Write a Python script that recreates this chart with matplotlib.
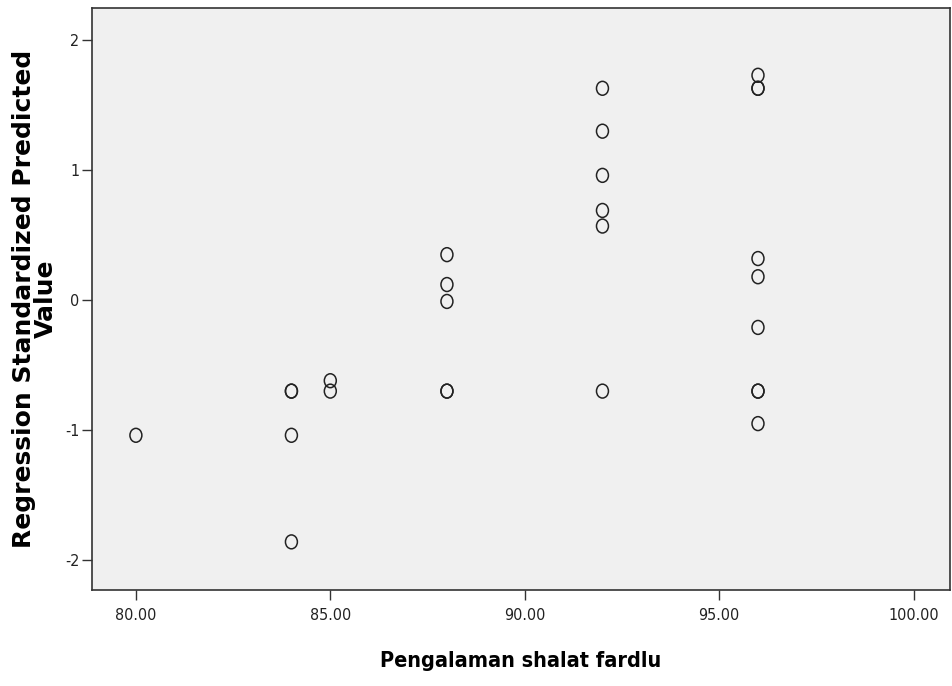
import matplotlib
matplotlib.use("Agg")
from matplotlib import pyplot as plt
from matplotlib.path import Path
from matplotlib.transforms import Affine2D

# scatter data
x_80 = [80]
y_80 = [-1.04]
x_84 = [84, 84, 84, 84]
y_84 = [-0.70, -0.70, -1.04, -1.86]
x_85 = [85, 85]
y_85 = [-0.62, -0.70]
x_88 = [88, 88, 88, 88, 88]
y_88 = [0.35, 0.12, -0.01, -0.70, -0.70]
x_92 = [92, 92, 92, 92, 92, 92]
y_92 = [1.63, 1.30, 0.96, 0.69, 0.57, -0.70]
x_96 = [96, 96, 96, 96, 96, 96, 96, 96, 96]
y_96 = [1.73, 1.63, 1.63, 0.32, 0.18, -0.21, -0.70, -0.70, -0.95]

xs = x_80 + x_84 + x_85 + x_88 + x_92 + x_96
ys = y_80 + y_84 + y_85 + y_88 + y_92 + y_96

x_ticks = [80, 85, 90, 95, 100]
y_ticks = [-2, -1, 0, 1, 2]

cond = dict(family='DejaVu Sans', stretch='condensed')

# slightly tall open circle, like the SPSS output
oval = Affine2D().scale(0.86, 1.0).transform_path(Path.unit_circle())

fig = plt.figure(figsize=(9.53, 6.86), dpi=100)
ax = fig.add_axes([0.0965, 0.140, 0.900, 0.848])
ax.set_facecolor('#f0f0f0')

ax.scatter(xs, ys, s=100, marker=oval, facecolors='none', edgecolors='#222222', linewidths=1.1)

ax.set_xlim(78.87, 100.93)
ax.set_ylim(-2.23, 2.246)
ax.set_xticks(x_ticks)
ax.set_xticklabels(["%.2f" % v for v in x_ticks], fontsize=11.5, color='#222222', **cond)
ax.set_yticks(y_ticks)
ax.set_yticklabels([str(v) for v in y_ticks], fontsize=11.5, color='#222222', **cond)
ax.tick_params(direction='out', length=7, width=1, color='#333333')
ax.tick_params(axis='x', pad=6)
ax.tick_params(axis='y', pad=2)

for s in ax.spines.values():
    s.set_color('#333333')
    s.set_linewidth(1.2)

ax.set_xlabel("Pengalaman shalat fardlu", fontweight='bold', fontsize=15.5, labelpad=20, **cond)
ax.set_ylabel("Regression Standardized Predicted\nValue", fontfamily='DejaVu Sans',
              fontweight='bold', fontsize=18, labelpad=5, linespacing=0.9)

fig.savefig("out.png", dpi=100, facecolor='white')
